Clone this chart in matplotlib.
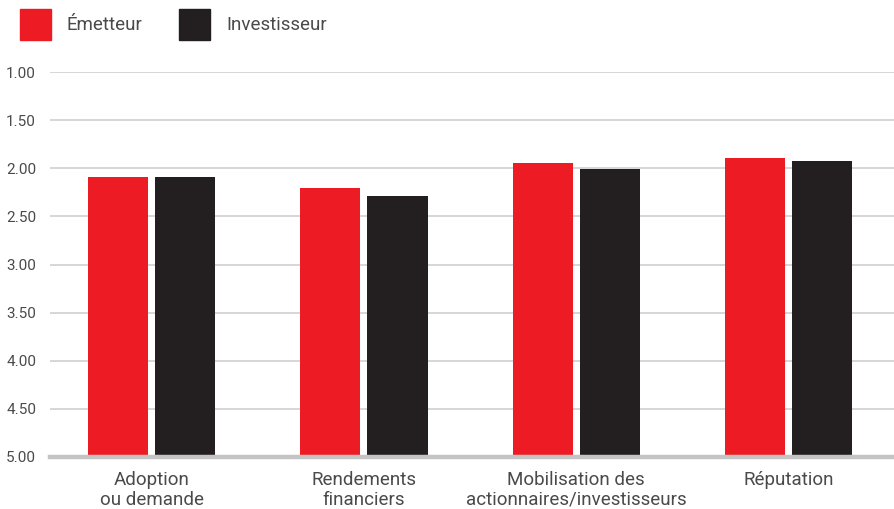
import matplotlib
matplotlib.use('Agg')
import matplotlib.pyplot as plt
from matplotlib.patches import Patch
import numpy as np

categories = ['Adoption\nou demande', 'Rendements\nfinanciers',
              'Mobilisation des\nactionnaires/investisseurs', 'Réputation']
emetteur = [2.09, 2.21, 1.95, 1.89]
investisseur = [2.09, 2.29, 2.01, 1.92]
series_names = ['Émetteur', 'Investisseur']
yticks = [1.00, 1.50, 2.00, 2.50, 3.00, 3.50, 4.00, 4.50, 5.00]

red = '#ED1C24'
black = '#231F20'
txt = '#4a4a4a'
base = 5.0

plt.rcParams['font.family'] = ['Roboto', 'DejaVu Sans']

fig = plt.figure(figsize=(8.95, 5.09), dpi=100)
ax = fig.add_axes([50 / 895, 52 / 509, 845 / 895, 385 / 509])

x = np.arange(len(categories))
w = 0.283
off = 0.158
# bars grow from 5.00 (bottom) up towards 1.00 on the inverted axis
ax.bar(x - off, np.array(emetteur) - base, bottom=base, width=w, color=red, zorder=3)
ax.bar(x + off, np.array(investisseur) - base, bottom=base, width=w, color=black, zorder=3)

ax.set_ylim(5.0, 1.0)
ax.set_xlim(-0.479, 3.502)
ax.set_yticks(yticks)
ax.set_yticklabels(['%.2f' % v for v in yticks])
ax.set_xticks(x)
ax.set_xticklabels(categories, linespacing=1.12)

ax.grid(axis='y', color='#d3d3d3', linewidth=1.3, zorder=0)
ax.set_axisbelow(True)
for s in ['top', 'right', 'left']:
    ax.spines[s].set_visible(False)
ax.spines['bottom'].set_color('#c4c4c4')
ax.spines['bottom'].set_linewidth(3.2)
ax.spines['bottom'].set_zorder(4)

ax.tick_params(axis='y', length=0, pad=10, labelsize=11, labelcolor=txt)
ax.tick_params(axis='x', length=0, pad=10, labelsize=13.5, labelcolor=txt)

handles = [Patch(color=red), Patch(color=black)]
ax.legend(handles, series_names, loc='upper left', ncol=2, frameon=False,
          bbox_to_anchor=(20 / 895, 1 - 9 / 509), bbox_transform=fig.transFigure,
          borderpad=0, borderaxespad=0, handlelength=1.65, handleheight=2.17,
          handletextpad=0.85, columnspacing=1.95, fontsize=13.5, labelcolor=txt)

plt.savefig('out.png', dpi=100)
